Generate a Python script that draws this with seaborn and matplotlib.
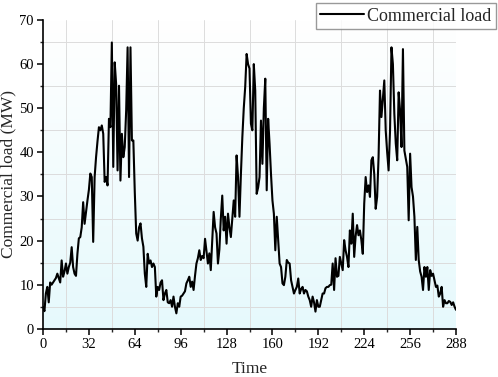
import numpy as np
import pandas as pd
import matplotlib
matplotlib.use("Agg")
import matplotlib.pyplot as plt
from matplotlib.ticker import MultipleLocator
import seaborn as sns

# commercial load (MW), one value per time step 0..288
load_00 = [5, 4, 8, 9.5, 6, 10.5, 10, 10.5, 11, 11.5, 12.5, 11.5, 10.5, 15.5, 11.8, 13]
load_16 = [14.8, 12.5, 14, 15, 18.5, 14, 12.5, 12, 17, 20.5, 20.8, 23, 28.7, 23.8, 26.5, 29.1]
load_32 = [31.5, 35.2, 34.4, 19.7, 34.4, 38.9, 42.5, 45.7, 45, 46.1, 44.2, 33.3, 34.4, 32.5, 47.6, 45.7]
load_48 = [64.9, 36.7, 60.4, 55.5, 35.9, 55.1, 33.6, 44.2, 38.9, 41.2, 49.5, 63.8, 34.4, 63.8, 42.7, 42.7]
load_64 = [31, 21.6, 20, 23, 23.9, 20.5, 18.6, 12.5, 9.5, 17, 14.8, 15.5, 14, 14.8, 14, 7.3]
load_80 = [9.5, 8.8, 10.5, 11, 6.5, 8, 8.8, 6, 5.8, 6.5, 5, 7.3, 5, 3.5, 5.8, 5]
load_96 = [7.3, 7.5, 8, 8.5, 10.3, 11, 11.8, 9.5, 10.7, 8.8, 12, 14.8, 16, 17.8, 15.6, 16.5]
load_112 = [16, 20.4, 17.5, 14.8, 17.1, 13.3, 20, 26.5, 23, 21.6, 14.8, 18, 25, 30.2, 22.3, 25.4]
load_128 = [19.3, 26.1, 23, 20.8, 25, 29.1, 25.4, 39.3, 34.4, 25.4, 35, 43.4, 50, 54.8, 62.3, 60]
load_144 = [59, 46.5, 45, 60, 54, 30.6, 32, 34.4, 47.2, 37.4, 50, 56.7, 31.4, 47.6, 41.9, 35]
load_160 = [29.1, 26.1, 17.8, 25.4, 20, 14.8, 14, 10.3, 9.9, 11.8, 15.6, 15, 14.8, 11, 9.5, 8]
load_176 = [8.8, 9.5, 11.4, 8, 9, 9.5, 8, 8.8, 8.5, 7.3, 6.5, 5, 7.3, 6, 3.9, 6.5]
load_192 = [5, 5, 6.5, 8, 8, 9.2, 9.5, 9.5, 9.9, 10, 14.8, 8.8, 16, 11.8, 12, 16.3]
load_208 = [14.8, 13.3, 20.1, 17.8, 16.3, 14, 22.3, 19.3, 26.1, 16.3, 21, 23.5, 21.2, 22.3, 20.1, 17]
load_224 = [28.4, 34.4, 31, 32.5, 29.9, 38.2, 38.9, 35, 27.2, 29.9, 38.9, 54, 48, 52, 56.3, 44.9]
load_240 = [40, 35.9, 44.9, 63.8, 60, 48.7, 42, 38.2, 53.6, 49.5, 41.2, 63.4, 40.4, 38.5, 36.7, 24.6]
load_256 = [39.7, 32.1, 30, 25.4, 15.6, 23.1, 15.6, 13, 11.8, 8.8, 14, 11.8, 14, 8.8, 13.3, 12]
load_272 = [12.5, 11, 9.5, 9.8, 7.3, 8, 9.5, 5, 6.5, 5.8, 5.8, 6.3, 6.1, 5.4, 6, 5, 4.3]

load = (load_00 + load_16 + load_32 + load_48 + load_64 + load_80 + load_96 + load_112
        + load_128 + load_144 + load_160 + load_176 + load_192 + load_208 + load_224
        + load_240 + load_256 + load_272)
time = list(range(len(load)))

x_ticks = [0, 32, 64, 96, 128, 160, 192, 224, 256, 288]
y_ticks = [0, 10, 20, 30, 40, 50, 60, 70]

df = pd.DataFrame({"Time": time, "Commercial load": load})

sns.set_style("ticks")
plt.rcParams["font.family"] = ["Liberation Serif", "DejaVu Serif"]

fig = plt.figure(figsize=(4.98, 3.77), dpi=100)
ax = fig.add_axes([43 / 498, 1 - 328.8 / 377, 413 / 498, 308.8 / 377])

# light cyan to white gradient behind the plot
grad = np.linspace(0, 1, 256).reshape(-1, 1)
bottom = np.array([230, 249, 252]) / 255
top = np.array([255, 255, 255]) / 255
img = bottom + (top - bottom) * grad[..., None]
ax.imshow(img, extent=[0, 1, 0, 1], transform=ax.transAxes, origin="lower",
          aspect="auto", zorder=0)

sns.lineplot(data=df, x="Time", y="Commercial load", ax=ax, color="black",
             linewidth=1.5, label="Commercial load", legend=False, zorder=3)

ax.set_xlim(0, 288)
ax.set_ylim(0, 70)
ax.set_xticks(x_ticks)
ax.set_yticks(y_ticks)
ax.xaxis.set_minor_locator(MultipleLocator(16))
ax.yaxis.set_minor_locator(MultipleLocator(5))
ax.tick_params(which="major", direction="out", length=4, width=1.1, labelsize=10.5,
               colors="black", pad=2.5)
ax.tick_params(which="minor", direction="out", length=2.5, width=1.0)
ax.grid(False)
ax.grid(which="minor", color="#dcdcdc", linewidth=0.7, zorder=1)
ax.set_axisbelow(True)
for s in ["top", "right"]:
    ax.spines[s].set_visible(False)
for s in ["left", "bottom"]:
    ax.spines[s].set_linewidth(1.2)
    ax.spines[s].set_color("black")

ax.set_xlabel("Time", fontsize=12.5, labelpad=7)
ax.set_ylabel("Commercial load (MW)", fontsize=12.5)
ax.yaxis.set_label_coords(-0.064, 0.5)

handles, labels = ax.get_legend_handles_labels()
leg = fig.legend(handles, labels, loc="upper right", bbox_to_anchor=(496 / 498, 1 - 3 / 377),
                 fontsize=13, frameon=True, fancybox=False, handlelength=2.4,
                 handletextpad=0.2, borderpad=0.25, borderaxespad=0)
leg.get_frame().set_edgecolor("#808080")
leg.get_frame().set_linewidth(1.0)

fig.savefig("out.png", dpi=100)
